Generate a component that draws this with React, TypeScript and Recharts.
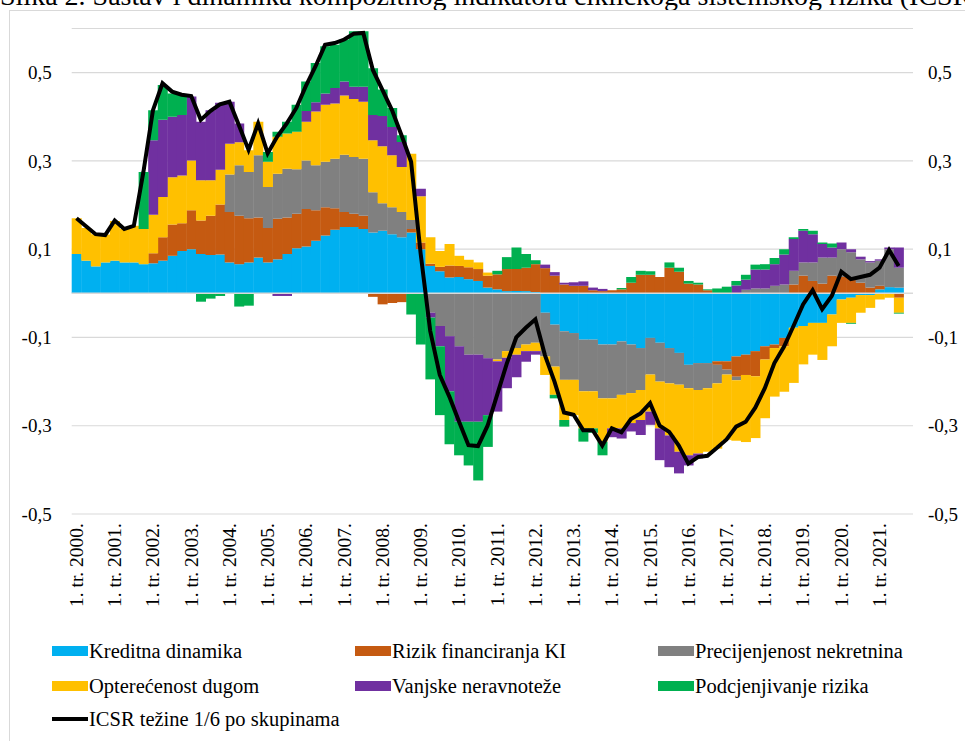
import React from 'react';
import { ComposedChart, Bar, Line, XAxis, YAxis, CartesianGrid, ReferenceLine } from 'recharts';

const YEARS = [2000, 2001, 2002, 2003, 2004, 2005, 2006, 2007, 2008, 2009, 2010, 2011, 2012, 2013, 2014, 2015, 2016, 2017, 2018, 2019, 2020, 2021];
const QUARTER_NAMES = ['1', '2', '3', '4'];
const TICK_LABEL = (year: number) => `1. tr. ${year}.`;
const Y_TICKS = [-0.5, -0.3, -0.1, 0.1, 0.3, 0.5];
const TITLE = 'Slika 2. Sastav i dinamika kompozitnog indikatora cikličkoga sistemskog rizika (ICSR)';

// Kreditna dinamika
const KREDITNA = [0.089, 0.074, 0.061, 0.07, 0.074, 0.07, 0.07, 0.066, 0.068, 0.074, 0.085, 0.096, 0.1, 0.089, 0.087, 0.088, 0.07, 0.066, 0.07, 0.081, 0.07, 0.077, 0.089, 0.102, 0.106, 0.119, 0.131, 0.144, 0.15, 0.15, 0.146, 0.138, 0.142, 0.134, 0.127, 0.138, 0.1, 0.062, 0.05, 0.036, 0.037, 0.032, 0.028, 0.013, 0.009, 0.005, 0.005, 0.005, 0.003, -0.044, -0.071, -0.086, -0.09, -0.105, -0.105, -0.116, -0.116, -0.109, -0.116, -0.124, -0.101, -0.112, -0.124, -0.135, -0.162, -0.158, -0.158, -0.154, -0.154, -0.143, -0.139, -0.131, -0.12, -0.116, -0.101, -0.078, -0.074, -0.067, -0.067, -0.048, -0.014, -0.01, -0.004, -0.004, 0.009, 0.014, 0.013, null];
// Rizik financiranja KI
const RIZIK_FIN = [0, 0, 0, 0, 0, 0, 0, 0, 0.023, 0.053, 0.071, 0.063, 0.088, 0.076, 0.089, 0.113, 0.114, 0.11, 0.1, 0.091, 0.078, 0.092, 0.083, 0.078, 0.085, 0.069, 0.064, 0.049, 0.034, 0.03, 0.03, -0.008, -0.025, -0.022, -0.02, 0.008, 0.015, 0.005, 0.01, 0.027, 0.025, 0.027, 0.027, 0.027, 0.034, 0.05, 0.05, 0.053, 0.063, 0.057, 0.04, 0.02, 0.017, 0.017, 0.007, 0.005, 0.007, 0.009, 0.024, 0.042, 0.042, 0.037, 0.058, 0.049, 0.022, 0.02, 0.007, -0.008, -0.019, -0.046, -0.046, -0.057, -0.03, -0.008, -0.019, 0.02, 0.04, 0.028, 0.022, 0.04, 0.037, 0.036, 0.024, 0.013, 0.008, 0, -0.01, null];
// Precijenjenost nekretnina
const PRECIJENJENOST = [0, 0, 0, 0, 0, 0, 0, 0, 0, 0, 0, 0, 0, 0, 0, 0, 0.085, 0.114, 0.105, 0.141, 0.093, 0.102, 0.11, 0.101, 0.11, 0.102, 0.103, 0.112, 0.13, 0.129, 0.129, 0.091, 0.062, 0.061, 0.057, 0.02, 0, -0.044, -0.074, -0.097, -0.12, -0.139, -0.139, -0.147, -0.15, -0.131, -0.124, -0.116, -0.112, -0.099, -0.095, -0.11, -0.106, -0.117, -0.117, -0.122, -0.122, -0.121, -0.11, -0.095, -0.083, -0.088, -0.08, -0.072, -0.053, -0.061, -0.057, -0.042, -0.011, -0.008, 0.008, 0.011, 0.011, 0.017, 0.02, 0.031, 0.03, 0.042, 0.059, 0.041, 0.063, 0.057, 0.053, 0.057, 0.057, 0.086, 0.045, null];
// Opterećenost dugom
const OPTERECENOST = [0.081, 0.074, 0.073, 0.063, 0.09, 0.076, 0.083, 0.08, 0.087, 0.091, 0.107, 0.108, 0.113, 0.091, 0.08, 0.079, 0.07, 0.052, 0.049, 0.076, 0.057, 0.084, 0.08, 0.085, 0.088, 0.122, 0.129, 0.125, 0.134, 0.131, 0.129, 0.118, 0.129, 0.118, 0.102, 0.15, 0.105, 0.06, 0.036, 0.049, 0.023, 0.017, 0.015, 0.007, -0.004, -0.015, -0.015, -0.015, -0.019, -0.042, -0.064, -0.091, -0.08, -0.084, -0.084, -0.098, -0.068, -0.076, -0.068, -0.068, -0.084, -0.106, -0.118, -0.152, -0.152, -0.144, -0.144, -0.148, -0.148, -0.137, -0.152, -0.14, -0.133, -0.11, -0.103, -0.125, -0.087, -0.072, -0.084, -0.072, -0.053, -0.057, -0.04, -0.029, -0.014, -0.01, -0.034, null];
// Vanjske neravnoteže
const VANJSKE = [0, 0, 0, 0, 0, 0, 0, 0, 0.169, 0.175, 0.137, 0.137, 0.145, 0.133, 0.159, 0.152, 0.095, 0.043, 0, 0, 0, -0.006, -0.006, 0, 0.024, 0.021, 0.026, 0.035, 0.032, 0.028, 0.034, 0.057, 0.069, 0.064, 0.057, 0, 0.017, -0.011, -0.046, -0.125, -0.171, -0.152, -0.152, -0.129, -0.114, -0.069, -0.051, -0.024, -0.008, 0.008, 0.008, 0.004, 0.008, 0.01, 0.006, 0.005, -0.02, -0.023, -0.019, -0.034, -0.03, -0.072, -0.072, -0.049, -0.023, -0.011, 0, 0, 0, 0.018, 0.023, 0.043, 0.043, 0.049, 0.068, 0.072, 0.072, 0.064, 0.031, 0.023, 0.015, 0.007, 0.006, 0.003, 0.003, 0.004, 0.046, null];
// Podcjenjivanje rizika
const PODCJENJIVANJE = [0, 0, 0, 0, 0, 0, 0, 0.129, 0.068, 0.079, 0.053, 0.046, 0, -0.019, -0.012, -0.006, 0, -0.03, -0.028, 0, 0.022, 0.011, 0.027, 0.061, 0.067, 0.089, 0.107, 0.098, 0.095, 0.126, 0.126, 0.106, 0.06, 0.043, 0.015, -0.048, -0.116, -0.14, -0.156, -0.12, -0.076, -0.099, -0.133, -0.072, 0.008, 0.027, 0.049, 0.031, 0.009, 0, -0.008, -0.015, 0, -0.03, -0.01, -0.031, 0, 0.003, 0.013, 0.009, 0.008, 0, 0.012, 0.009, 0.006, 0.004, 0.002, 0.011, 0.015, 0.01, 0.011, 0.011, 0.012, 0.014, 0.012, 0.004, 0.004, 0.008, 0.003, 0.009, 0, -0.002, 0, 0, 0, 0, -0.002, null];
// ICSR težine 1/6 po skupinama
const ICSR = [0.17, 0.152, 0.134, 0.132, 0.165, 0.146, 0.153, 0.275, 0.415, 0.476, 0.457, 0.45, 0.447, 0.393, 0.413, 0.428, 0.434, 0.38, 0.325, 0.385, 0.317, 0.355, 0.385, 0.42, 0.47, 0.514, 0.563, 0.567, 0.575, 0.588, 0.59, 0.506, 0.461, 0.415, 0.358, 0.298, 0.09, -0.085, -0.185, -0.234, -0.29, -0.344, -0.346, -0.3, -0.23, -0.16, -0.1, -0.078, -0.059, -0.14, -0.2, -0.27, -0.275, -0.31, -0.31, -0.345, -0.306, -0.315, -0.285, -0.272, -0.249, -0.3, -0.314, -0.345, -0.386, -0.371, -0.368, -0.35, -0.331, -0.302, -0.291, -0.259, -0.215, -0.158, -0.121, -0.074, -0.025, 0.007, -0.036, -0.006, 0.049, 0.032, 0.037, 0.042, 0.058, 0.098, 0.062, null];

const SERIES = [
  { key: 'kred', name: 'Kreditna dinamika', color: '#00B0F0', values: KREDITNA },
  { key: 'rfin', name: 'Rizik financiranja KI', color: '#C55A11', values: RIZIK_FIN },
  { key: 'prec', name: 'Precijenjenost nekretnina', color: '#808080', values: PRECIJENJENOST },
  { key: 'opt', name: 'Opterećenost dugom', color: '#FFC000', values: OPTERECENOST },
  { key: 'vanj', name: 'Vanjske neravnoteže', color: '#7030A0', values: VANJSKE },
  { key: 'podc', name: 'Podcjenjivanje rizika', color: '#00B050', values: PODCJENJIVANJE },
];
const LINE_NAME = 'ICSR težine 1/6 po skupinama';

const QUARTERS: { q: string; year: number; qi: number }[] = [];
YEARS.forEach((y) => QUARTER_NAMES.forEach((_, qi) => QUARTERS.push({ q: `${y}-Q${qi + 1}`, year: y, qi })));

const data = QUARTERS.map((c, i) => {
  const row: Record<string, any> = { q: c.q, year: c.year, qi: c.qi, icsr: ICSR[i] };
  SERIES.forEach((s) => { row[s.key] = s.values[i]; });
  return row;
});

const FONT = '"Liberation Serif", "Times New Roman", serif';
const fmt = (v: number) => v.toFixed(1).replace('.', ',');

const XTick = (props: any) => {
  const { x, y, payload } = props;
  const c = QUARTERS.find((d) => d.q === payload.value);
  if (!c || c.qi !== 0) return null;
  return (
    <g transform={`translate(${x},${y})`}>
      <text transform="rotate(-90)" textAnchor="end" dy="0.33em" fontSize={19.5} fontFamily={FONT} fill="#000">
        {TICK_LABEL(c.year)}
      </text>
    </g>
  );
};

export default function App() {
  const legendCols = [52, 355, 658];
  const legendRows = [651, 686, 719];
  return (
    <div style={{ position: 'absolute', left: 0, top: 0, width: 965, height: 741, overflow: 'hidden', background: '#fff' }}>
      <svg width={965} height={14} style={{ position: 'absolute', left: 0, top: 0 }}>
        <text x={0} y={4.5} fontSize={28} fontFamily={FONT} fill="#000">{TITLE}</text>
      </svg>
      <div style={{ position: 'absolute', left: 9, top: 10, width: 1000, height: 800, border: '1px solid #D9D9D9', boxSizing: 'border-box' }} />
      <div style={{ position: 'absolute', left: 0, top: 0 }}>
        <ComposedChart
          width={965}
          height={741}
          data={data}
          stackOffset="sign"
          barCategoryGap={0}
          barGap={0}
          margin={{ top: 28.5, right: 0, bottom: 127, left: 11.7 }}
        >
          <CartesianGrid vertical={false} yAxisId="left" stroke="#D9D9D9" strokeWidth={1.2} />
          <XAxis
            dataKey="q"
            interval={0}
            height={100}
            axisLine={false}
            tickLine={false}
            tickSize={0}
            tickMargin={9}
            tick={<XTick />}
          />
          <YAxis
            yAxisId="left"
            width={60}
            domain={[-0.5, 0.6]}
            ticks={Y_TICKS}
            allowDataOverflow
            axisLine={false}
            tickLine={false}
            tickSize={0}
            tickMargin={20}
            tickFormatter={fmt}
            tick={{ fill: '#000', fontSize: 19, fontFamily: FONT }}
          />
          <YAxis
            yAxisId="right"
            orientation="right"
            width={52}
            domain={[-0.5, 0.6]}
            ticks={Y_TICKS}
            allowDataOverflow
            axisLine={false}
            tickLine={false}
            tickSize={0}
            tickMargin={15}
            tickFormatter={fmt}
            tick={{ fill: '#000', fontSize: 19, fontFamily: FONT, textAnchor: 'start' }}
          />
          {SERIES.map((s) => (
            <Bar
              key={s.key}
              yAxisId="left"
              dataKey={s.key}
              name={s.name}
              stackId="s"
              fill={s.color}
              isAnimationActive={false}
            />
          ))}
          <ReferenceLine yAxisId="left" y={0} stroke="#D9D9D9" strokeWidth={1.5} />
          <Line
            yAxisId="left"
            dataKey="icsr"
            name={LINE_NAME}
            stroke="#000"
            strokeWidth={4}
            dot={false}
            activeDot={false}
            isAnimationActive={false}
          />
        </ComposedChart>
      </div>
      <svg width={965} height={741} style={{ position: 'absolute', left: 0, top: 0, pointerEvents: 'none' }}>
        {SERIES.map((s, i) => {
          const x = legendCols[i % 3];
          const y = legendRows[Math.floor(i / 3)];
          return (
            <g key={s.key}>
              <rect x={x} y={y - 5} width={36} height={10} fill={s.color} />
              <text x={x + 37} y={y + 7} fontSize={20.5} fontFamily={FONT} fill="#000">{s.name}</text>
            </g>
          );
        })}
        <line x1={legendCols[0]} x2={legendCols[0] + 36} y1={legendRows[2]} y2={legendRows[2]} stroke="#000" strokeWidth={4} />
        <text x={legendCols[0] + 37} y={legendRows[2] + 7} fontSize={20.5} fontFamily={FONT} fill="#000">{LINE_NAME}</text>
      </svg>
    </div>
  );
}
